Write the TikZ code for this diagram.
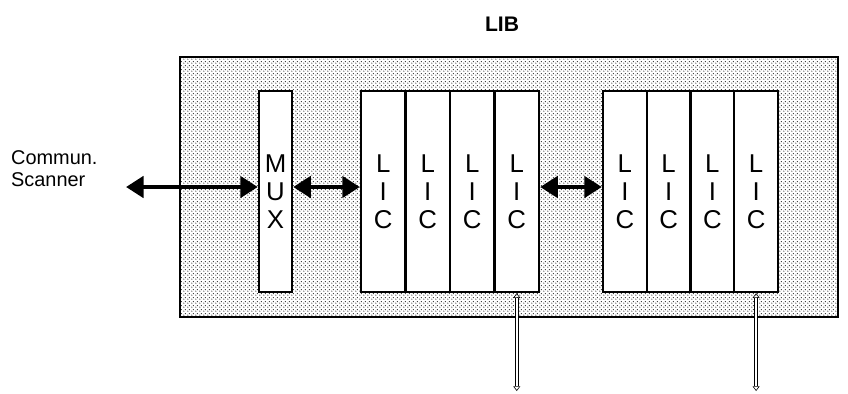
\documentclass[tikz,border=0pt]{standalone}
\usepackage{fontspec}
\setmainfont{Liberation Sans}
\usetikzlibrary{arrows.meta,patterns.meta}

\pgfdeclarepattern{name=shelfdots,type=uncolored,
  bottom left={\pgfpoint{0pt}{0pt}},top right={\pgfpoint{3pt}{3pt}},
  tile size={\pgfpoint{3pt}{3pt}},
  code={\pgfpathcircle{\pgfpoint{.75pt}{.75pt}}{.5pt}
        \pgfpathcircle{\pgfpoint{2.25pt}{2.25pt}}{.5pt}\pgfusepath{fill}}}

\begin{document}
\begin{tikzpicture}[x=0.03cm,y=-0.03cm,every node/.style={font=\fontsize{17}{19}\selectfont},
  card/.style={draw,line width=2pt,fill=white,align=center,inner sep=0pt,minimum height=6.03cm,font=\fontsize{22}{24}\selectfont},
  bus/.style={line width=4pt,{Triangle[length=15pt,width=18pt]}-{Triangle[length=15pt,width=18pt]}},
  feed/.style={double,double distance=2pt,line width=.5pt,{Triangle[open,length=4pt,width=6pt]}-{Triangle[open,length=4pt,width=6pt]}}]
\useasboundingbox (0,0) rectangle (848,393);
% shelf
\node[draw,line width=2pt,pattern=shelfdots,minimum width=19.74cm,minimum height=7.8cm,inner sep=0pt] (lib) at (509,187) {};
\node[font=\fontsize{18}{20}\selectfont\bfseries] (libtitle) at (502,24) {LIB};
\node[anchor=west,align=left] (scan) at (7,169) {Commun.\\Scanner};
% cards
\node[card,minimum width=0.99cm] (mux) at (275.5,191.5) {M\\U\\X};
\node[card,minimum width=1.335cm] (lica1) at (383.25,191.5) {L\\I\\C};
\node[card,minimum width=1.335cm] (lica2) at (427.75,191.5) {L\\I\\C};
\node[card,minimum width=1.335cm] (lica3) at (472.25,191.5) {L\\I\\C};
\node[card,minimum width=1.335cm] (lica4) at (516.75,191.5) {L\\I\\C};
\node[card,minimum width=1.3125cm] (licb1) at (624.9,191.5) {L\\I\\C};
\node[card,minimum width=1.3125cm] (licb2) at (668.6,191.5) {L\\I\\C};
\node[card,minimum width=1.3125cm] (licb3) at (712.4,191.5) {L\\I\\C};
\node[card,minimum width=1.3125cm] (licb4) at (756.1,191.5) {L\\I\\C};
% buses
\coordinate (scanend) at (126,187);
\draw[bus] (scanend) -- (scanend -| mux.west);
\draw[bus] (mux.east |- 0,187) -- (lica1.west |- 0,187);
\draw[bus] (lica4.east |- 0,187) -- (licb1.west |- 0,187);
\coordinate (outa) at (516.75,391);
\coordinate (outb) at (756.1,391);
\draw[feed] (lica4.south) -- (outa);
\draw[feed] (licb4.south) -- (outb);
\end{tikzpicture}
\end{document}
